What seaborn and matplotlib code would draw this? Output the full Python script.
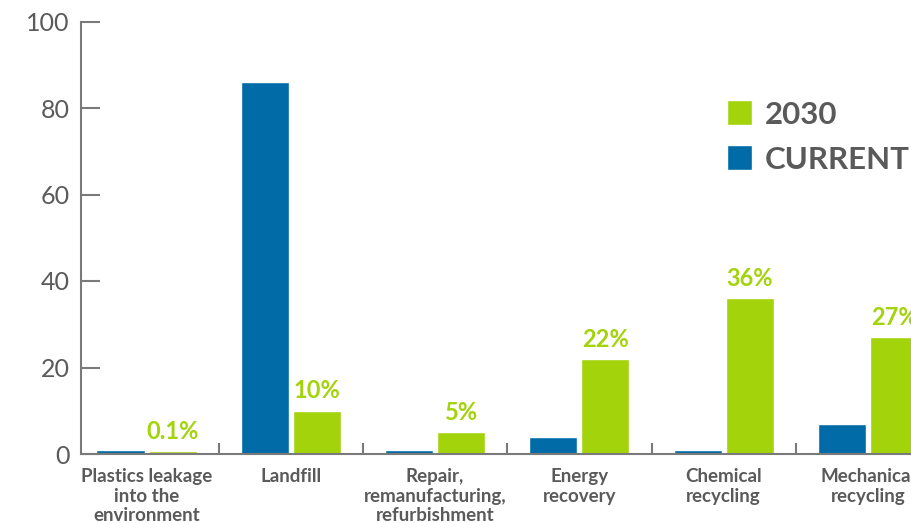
import pandas as pd
import numpy as np
import matplotlib.pyplot as plt
import seaborn as sns
from matplotlib.patches import Patch
from matplotlib.ticker import FixedLocator

categories = ['Plastics leakage\ninto the\nenvironment', 'Landfill',
              'Repair,\nremanufacturing,\nrefurbishment', 'Energy\nrecovery',
              'Chemical\nrecycling', 'Mechanical\nrecycling']
current = [1, 86, 1, 4, 1, 7]
future = [0.6, 10, 5, 22, 36, 27]
future_labels = ['0.1%', '10%', '5%', '22%', '36%', '27%']
yticks = [0, 20, 40, 60, 80, 100]

blue = '#006ba6'
green = '#a3d30a'
grey = '#5a5a5a'
axis_grey = '#7a7a7a'

df = pd.DataFrame({
    'cat': categories * 2,
    'value': current + future,
    'series': ['CURRENT'] * len(categories) + ['2030'] * len(categories),
})

sns.set_theme(style='white')
plt.rcParams['font.family'] = ['Lato', 'DejaVu Sans']

fig = plt.figure(figsize=(9.11, 5.23), dpi=100)
ax = fig.add_axes([81 / 911, 69 / 523, 1 - 81 / 911, 432.5 / 523])

sns.barplot(data=df, x='cat', y='value', hue='series', hue_order=['CURRENT', '2030'],
            palette=[blue, green], width=0.722, gap=0.077, saturation=1,
            legend=False, ax=ax)

ax.bar_label(ax.containers[1], labels=future_labels, padding=6,
             color=green, fontsize=17, fontweight='bold')

ax.set_xlim(-0.454, 5.298)
ax.set_ylim(0, 100)
ax.set_yticks(yticks)
ax.set_xlabel('')
ax.set_ylabel('')

for s in ['top', 'right']:
    ax.spines[s].set_visible(False)
for s in ['left', 'bottom']:
    ax.spines[s].set_color(axis_grey)
    ax.spines[s].set_linewidth(1.5)

ax.tick_params(axis='y', direction='in', length=14, width=1.5, color=axis_grey,
               labelsize=18, labelcolor=grey, pad=8, left=True)
ax.tick_params(axis='x', which='major', length=0, pad=10, labelsize=13.5,
               labelcolor=grey)
for lab in ax.get_xticklabels():
    lab.set_fontweight('bold')
    lab.set_linespacing(1.2)

ax.xaxis.set_minor_locator(FixedLocator([0.5, 1.5, 2.5, 3.5, 4.5]))
ax.tick_params(axis='x', which='minor', direction='in', length=8, width=1.5,
               color=axis_grey, bottom=True)

handles = [Patch(facecolor=green, label='2030'), Patch(facecolor=blue, label='CURRENT')]
leg = fig.legend(handles=handles, loc='upper left', bbox_to_anchor=(727 / 911, 1 - 101 / 523),
                 frameon=False, fontsize=22.5, handlelength=0.8, handleheight=0.8,
                 handletextpad=0.4, labelspacing=0.55, borderpad=0, borderaxespad=0)
for t in leg.get_texts():
    t.set_color(grey)
    t.set_fontweight('bold')
for h in leg.legend_handles:
    h.set_height(25 * 72 / 100)
    h.set_width(25 * 72 / 100)

fig.savefig('out.png', dpi=100)
